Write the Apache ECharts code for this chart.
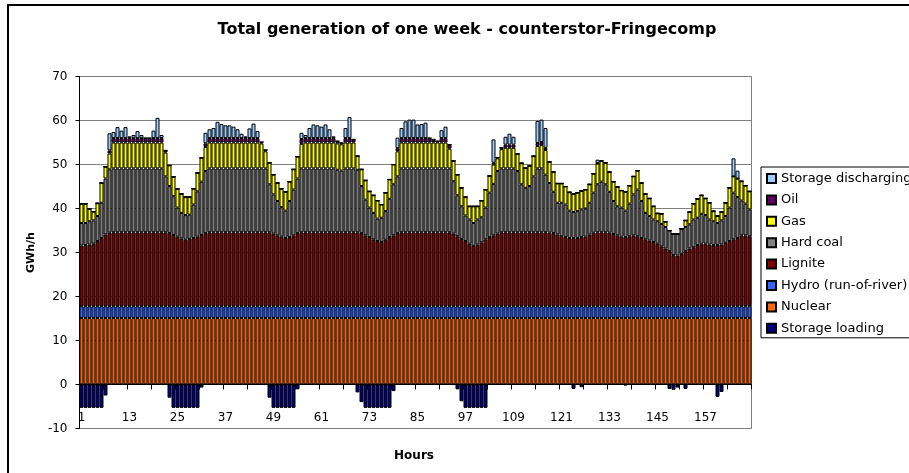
<!DOCTYPE html>
<html><head><meta charset="utf-8">
<script src="https://cdn.jsdelivr.net/npm/echarts@6/dist/echarts.min.js"></script>
<style>html,body{margin:0;padding:0;background:#fff}#c{width:909px;height:473px}</style>
</head><body><div id="c"></div>
<script>
const hours = [
1,2,3,4,5,6,7,8,9,10,11,12,13,14,15,16,17,18,19,20,21,22,23,24,
25,26,27,28,29,30,31,32,33,34,35,36,37,38,39,40,41,42,43,44,45,46,47,48,
49,50,51,52,53,54,55,56,57,58,59,60,61,62,63,64,65,66,67,68,69,70,71,72,
73,74,75,76,77,78,79,80,81,82,83,84,85,86,87,88,89,90,91,92,93,94,95,96,
97,98,99,100,101,102,103,104,105,106,107,108,109,110,111,112,113,114,115,116,117,118,119,120,
121,122,123,124,125,126,127,128,129,130,131,132,133,134,135,136,137,138,139,140,141,142,143,144,
145,146,147,148,149,150,151,152,153,154,155,156,157,158,159,160,161,162,163,164,165,166,167,168];

const yTicks = [-10, 0, 10, 20, 30, 40, 50, 60, 70];

const storageLoading = [
-5.3,-5.3,-5.3,-5.3,-5.3,-5.3,-2.5,0,0,0,
0,0,0,0,0,0,0,0,0,0,
0,0,-3.0,-5.3,-5.3,-5.3,-5.3,-5.3,-5.3,-5.3,
-0.7,0,0,0,0,0,0,0,0,0,
0,0,0,0,0,0,0,-3.0,-5.3,-5.3,
-5.3,-5.3,-5.3,-5.3,-1.1,0,0,0,0,0,
0,0,0,0,0,0,0,0,0,-1.8,
-4.0,-5.3,-5.3,-5.3,-5.3,-5.3,-5.3,-5.3,-1.5,0,
0,0,0,0,0,0,0,0,0,0,
0,0,0,0,-1.1,-3.8,-5.3,-5.3,-5.3,-5.3,
-5.3,-5.3,0,0,0,0,0,0,0,0,
0,0,0,0,0,0,0,0,0,0,
0,0,0,-1.0,0,-0.6,0,0,0,0,
0,0,0,0,0,0,-0.2,0,0,0,
0,0,0,0,0,0,0,-1.0,-1.2,-0.7,
0,-1.0,0,0,0,0,0,0,0,-2.8,
-1.7,0,0,0,0,0,0,0];

const nuclear = [
15.1,15.1,15.1,15.1,15.1,15.1,15.1,15.1,15.1,15.1,15.1,15.1,
15.1,15.1,15.1,15.1,15.1,15.1,15.1,15.1,15.1,15.1,15.1,15.1,
15.1,15.1,15.1,15.1,15.1,15.1,15.1,15.1,15.1,15.1,15.1,15.1,
15.1,15.1,15.1,15.1,15.1,15.1,15.1,15.1,15.1,15.1,15.1,15.1,
15.1,15.1,15.1,15.1,15.1,15.1,15.1,15.1,15.1,15.1,15.1,15.1,
15.1,15.1,15.1,15.1,15.1,15.1,15.1,15.1,15.1,15.1,15.1,15.1,
15.1,15.1,15.1,15.1,15.1,15.1,15.1,15.1,15.1,15.1,15.1,15.1,
15.1,15.1,15.1,15.1,15.1,15.1,15.1,15.1,15.1,15.1,15.1,15.1,
15.1,15.1,15.1,15.1,15.1,15.1,15.1,15.1,15.1,15.1,15.1,15.1,
15.1,15.1,15.1,15.1,15.1,15.1,15.1,15.1,15.1,15.1,15.1,15.1,
15.1,15.1,15.1,15.1,15.1,15.1,15.1,15.1,15.1,15.1,15.1,15.1,
15.1,15.1,15.1,15.1,15.1,15.1,15.1,15.1,15.1,15.1,15.1,15.1,
15.1,15.1,15.1,15.1,15.1,15.1,15.1,15.1,15.1,15.1,15.1,15.1,
15.1,15.1,15.1,15.1,15.1,15.1,15.1,15.1,15.1,15.1,15.1,15.1];

const hydro = [
2.7,2.7,2.7,2.7,2.7,2.7,2.7,2.7,2.7,2.7,2.7,2.7,
2.7,2.7,2.7,2.7,2.7,2.7,2.7,2.7,2.7,2.7,2.7,2.7,
2.7,2.7,2.7,2.7,2.7,2.7,2.7,2.7,2.7,2.7,2.7,2.7,
2.7,2.7,2.7,2.7,2.7,2.7,2.7,2.7,2.7,2.7,2.7,2.7,
2.7,2.7,2.7,2.7,2.7,2.7,2.7,2.7,2.7,2.7,2.7,2.7,
2.7,2.7,2.7,2.7,2.7,2.7,2.7,2.7,2.7,2.7,2.7,2.7,
2.7,2.7,2.7,2.7,2.7,2.7,2.7,2.7,2.7,2.7,2.7,2.7,
2.7,2.7,2.7,2.7,2.7,2.7,2.7,2.7,2.7,2.7,2.7,2.7,
2.7,2.7,2.7,2.7,2.7,2.7,2.7,2.7,2.7,2.7,2.7,2.7,
2.7,2.7,2.7,2.7,2.7,2.7,2.7,2.7,2.7,2.7,2.7,2.7,
2.7,2.7,2.7,2.7,2.7,2.7,2.7,2.7,2.7,2.7,2.7,2.7,
2.7,2.7,2.7,2.7,2.7,2.7,2.7,2.7,2.7,2.7,2.7,2.7,
2.7,2.7,2.7,2.7,2.7,2.7,2.7,2.7,2.7,2.7,2.7,2.7,
2.7,2.7,2.7,2.7,2.7,2.7,2.7,2.7,2.7,2.7,2.7,2.7];

const lignite = [
13.8,13.9,14.0,14.2,14.8,15.5,16.3,16.7,16.8,16.8,
16.8,16.8,16.8,16.8,16.8,16.8,16.8,16.8,16.8,16.8,
16.8,16.8,16.6,16.2,15.8,15.4,15.1,15.3,15.5,15.8,
16.2,16.6,16.8,16.8,16.8,16.8,16.8,16.8,16.8,16.8,
16.8,16.8,16.8,16.8,16.8,16.8,16.8,16.8,16.5,16.1,
15.8,15.5,15.7,16.1,16.6,16.8,16.8,16.8,16.8,16.8,
16.8,16.8,16.8,16.8,16.8,16.8,16.8,16.8,16.8,16.8,
16.6,16.1,15.7,15.2,14.8,14.6,15.1,15.7,16.1,16.6,
16.8,16.8,16.8,16.8,16.8,16.8,16.8,16.8,16.8,16.8,
16.8,16.8,16.8,16.5,15.9,15.3,14.8,14.2,13.7,14.0,
14.5,15.2,15.7,16.1,16.5,16.8,16.8,16.8,16.8,16.8,
16.8,16.8,16.8,16.8,16.8,16.8,16.8,16.7,16.6,16.3,
15.9,15.7,15.5,15.5,15.5,15.7,15.8,16.3,16.7,16.8,
16.8,16.8,16.7,16.4,16.1,15.8,15.7,15.9,16.1,15.9,
15.5,15.2,14.9,14.6,14.2,13.6,13.1,12.5,11.6,11.5,
11.9,12.5,13.1,13.4,13.9,14.2,14.2,14.0,13.9,13.9,
14.0,14.4,14.8,15.2,15.5,16.1,16.1,15.9];

const hardCoal = [
5.1,5.0,5.3,5.3,5.7,8.0,12.7,14.4,14.5,14.5,
14.5,14.5,14.5,14.5,14.5,14.5,14.5,14.5,14.5,14.5,
14.5,12.7,10.7,8.8,6.6,5.8,5.6,5.5,7.6,10.3,
12.1,14.1,14.5,14.5,14.5,14.5,14.5,14.5,14.5,14.5,
14.5,14.5,14.5,14.5,14.5,14.5,14.5,10.9,8.9,7.8,
6.7,6.2,8.2,10.4,12.4,14.5,14.5,14.5,14.5,14.5,
14.5,14.5,14.5,14.5,14.2,14.0,14.5,14.5,14.5,14.2,
10.7,8.1,6.7,6.0,5.1,5.5,6.5,8.7,11.6,12.9,
14.5,14.5,14.5,14.5,14.5,14.5,14.5,14.5,14.5,14.5,
14.5,14.5,14.5,11.9,9.3,7.4,5.8,5.5,5.2,5.7,
5.7,7.2,10.1,11.7,14.2,14.5,14.5,14.5,14.5,13.9,
10.9,10.1,10.5,12.7,14.5,14.5,13.1,11.3,9.4,7.2,
7.6,7.4,6.2,5.9,6.1,6.3,6.4,7.2,9.1,10.9,
11.5,10.9,9.3,7.5,6.6,6.6,6.0,7.4,9.3,10.6,
8.4,6.0,5.6,5.1,5.1,5.1,4.9,4.7,4.8,4.9,
5.7,5.5,5.5,6.3,6.2,6.8,6.5,5.7,5.4,5.0,
5.5,6.1,7.6,10.6,9.3,7.9,7.2,6.1];

const gas = [
4.4,4.4,2.8,2.0,2.9,4.5,2.7,3.6,5.9,5.9,
5.9,5.9,5.9,5.9,5.9,5.9,5.9,5.9,5.9,5.9,
5.9,5.4,4.7,4.4,4.3,4.3,4.1,4.0,3.6,4.2,
5.4,5.5,5.9,5.9,5.9,5.9,5.9,5.9,5.9,5.9,
5.9,5.9,5.9,5.9,5.9,5.7,3.9,4.9,4.5,4.1,
4.2,4.3,4.4,4.6,5.0,5.6,5.9,5.9,5.9,5.9,
5.9,5.9,5.9,5.9,6.0,6.0,5.9,5.9,5.9,3.1,
3.8,4.4,3.7,4.0,4.1,3.0,4.2,4.4,4.5,5.7,
5.9,5.9,5.9,5.9,5.9,5.9,5.9,5.9,5.9,5.9,
5.9,5.9,4.5,4.6,4.7,4.2,4.2,3.0,3.8,3.0,
3.8,4.1,3.8,4.4,2.9,4.4,4.7,4.7,4.7,3.9,
4.8,4.5,4.6,4.6,5.1,5.3,5.6,4.8,4.5,4.4,
4.4,4.1,4.2,4.1,4.2,4.2,4.3,4.2,4.3,4.7,
4.7,4.9,4.5,4.4,4.4,3.9,4.3,4.1,4.1,4.3,
4.1,4.3,4.0,3.0,1.8,2.3,1.2,0,0,0,
0,1.5,2.8,3.6,4.3,4.2,3.8,3.8,2.3,1.6,
1.9,3.0,4.5,3.7,4.2,4.4,4.1,4.1];

const oil = [
0,0,0,0,0,0,0,0.7,1,1,
1,1,1,1,1,1,1,1,1,1,
1,0.5,0,0,0,0,0,0,0,0,
0,0.8,1,1,1,1,1,1,1,1,
1,1,1,1,1,0.3,0.3,0,0,0,
0,0,0,0,0,1.1,1,1,1,1,
1,1,1,1,0.5,0.3,1,1,0.7,0,
0,0,0,0,0,0,0,0,0,0.7,
1,1,1,1,1,1,1,1,0.7,0.3,
1,1,0.9,0,0,0,0,0,0,0,
0,0,0,0.4,0.2,0.3,0.7,0.7,0.7,0,
0,0,0,0,0.7,0.7,0.5,0,0,0,
0,0,0,0,0,0,0,0,0,0.1,
0,0,0,0,0,0,0,0,0,0,
0,0,0,0,0,0,0,0,0,0,
0,0,0,0,0,0,0,0,0,0,
0,0,0,0,0,0,0,0];

const storageDischarging = [
0,0,0,0,0,0,0,3.9,1.4,2.5,
1.7,2.5,0.4,0.7,1.6,0.7,0,0,1.7,4.6,
0.7,0,0,0,0,0,0,0,0,0,
0,2.4,2.0,2.3,3.7,3.2,2.9,2.9,2.6,2.0,
1.0,0.4,2.2,3.3,1.6,0,0,0,0,0,
0,0,0,0,0,1.4,0.7,2.3,3.1,2.9,
2.6,3.1,2.0,0.4,0,0,2.3,4.8,0,0,
0,0,0,0,0,0,0,0,0,2.4,
2.3,3.8,4.2,4.2,3.1,3.2,3.5,0,0,0,
1.8,2.6,0,0,0,0,0,0,0,0,
0,0,0,5.3,0,0,1.8,2.5,1.8,0,
0,0,0,0,5.0,5.1,4.5,0,0,0,
0,0,0,0,0,0,0,0,0,0.8,
0,0,0,0,0,0,0,0,0,0,
0,0,0,0,0,0,0,0,0,0,
0,0,0,0,0,0,0,0,0,0,
0,0,0,4.1,1.8,0,0,0];

const chart = echarts.init(document.getElementById('c'), null, {renderer: 'canvas'});
const FONT = 'DejaVu Sans';
function bar(name, data, color) {
  return {
    name, type: 'bar', stack: 'gen', data,
    xAxisIndex: 0, yAxisIndex: 0,
    barCategoryGap: '0%',
    itemStyle: {color, borderColor: '#000', borderWidth: 1},
    emphasis: {disabled: true},
    silent: true
  };
}
// grid geometry: y axis spans 352 px for 80 units -> 0 line is 308 px below top
const gridTop = 76.5, gridHeight = 352;
const zeroOffset = gridHeight * (yTicks[yTicks.length - 1] - 0) / (yTicks[yTicks.length - 1] - yTicks[0]);
chart.setOption({
  animation: false,
  backgroundColor: '#ffffff',
  textStyle: {fontFamily: FONT, color: '#000'},
  graphic: [
    {type: 'rect', shape: {x: 8, y: 5, width: 1000, height: 1000}, style: {fill: 'none', stroke: '#000', lineWidth: 2}, z: 100},
    {type: 'text', style: {x: 467, y: 30, text: 'Total generation of one week - counterstor-Fringecomp', align: 'center', verticalAlign: 'middle', font: 'bold 16px "DejaVu Sans"', fill: '#000'}},
    {type: 'text', style: {x: 414, y: 456, text: 'Hours', align: 'center', verticalAlign: 'middle', font: 'bold 12px "DejaVu Sans"', fill: '#000'}}
  ],
  legend: {
    orient: 'vertical', left: 761, top: 167,
    itemWidth: 9, itemHeight: 9, itemGap: 8.4,
    padding: [5, 60, 3, 5],
    borderColor: '#000', borderWidth: 1,
    icon: 'rect',
    textStyle: {fontSize: 13, color: '#000', fontFamily: FONT},
    data: ['Storage discharging', 'Oil', 'Gas', 'Hard coal', 'Lignite', 'Hydro (run-of-river)', 'Nuclear', 'Storage loading']
  },
  grid: {left: 79.5, right: 157.5, top: gridTop, height: gridHeight, show: true, borderColor: '#808080', borderWidth: 1, backgroundColor: 'transparent'},
  xAxis: [
    {
      type: 'category', data: hours, position: 'bottom',
      axisLine: {show: false, onZero: false},
      axisTick: {show: false},
      axisLabel: {interval: 11, inside: true, margin: 5, fontSize: 12, color: '#000', fontFamily: FONT},
      splitLine: {show: false}
    },
    {
      type: 'category', data: hours, position: 'top', offset: -zeroOffset,
      axisLine: {show: true, onZero: false, lineStyle: {color: '#000', width: 1}},
      axisTick: {show: true, interval: 5, inside: true, length: 5, lineStyle: {color: '#000'}},
      axisLabel: {show: false},
      splitLine: {show: false}
    }
  ],
  yAxis: {
    type: 'value', min: yTicks[0], max: yTicks[yTicks.length - 1], interval: yTicks[1] - yTicks[0],
    name: 'GWh/h', nameLocation: 'middle', nameGap: 38,
    nameTextStyle: {fontWeight: 'bold', fontSize: 11, color: '#000', fontFamily: FONT},
    axisLine: {show: true, lineStyle: {color: '#000'}},
    axisTick: {show: true, length: 4, lineStyle: {color: '#000'}},
    axisLabel: {margin: 12, fontSize: 12, color: '#000', fontFamily: FONT},
    splitLine: {show: true, lineStyle: {color: '#808080', width: 1}}
  },
  series: [
    bar('Storage loading', storageLoading, '#000080'),
    bar('Nuclear', nuclear, '#FF6600'),
    bar('Hydro (run-of-river)', hydro, '#3366FF'),
    bar('Lignite', lignite, '#800000'),
    bar('Hard coal', hardCoal, '#808080'),
    bar('Gas', gas, '#FFFF00'),
    bar('Oil', oil, '#660066'),
    bar('Storage discharging', storageDischarging, '#99CCFF')
  ]
});
</script>
</body></html>
